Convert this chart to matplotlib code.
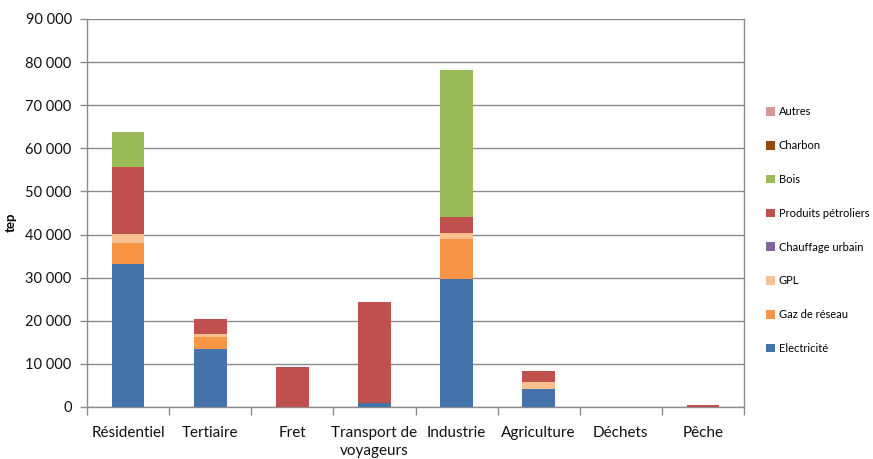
import matplotlib
matplotlib.use("Agg")
import matplotlib.pyplot as plt
from matplotlib.ticker import FuncFormatter, FixedLocator, MultipleLocator
from matplotlib.patches import Patch
import numpy as np

plt.rcParams['font.family'] = ['Lato', 'DejaVu Sans']

categories = ["Résidentiel", "Tertiaire", "Fret", "Transport de\nvoyageurs",
              "Industrie", "Agriculture", "Déchets", "Pêche"]

# consumption by energy source, in tep
electricite = [33200, 13450, 0, 950, 29700, 4100, 0, 0]
gaz_reseau = [4800, 2850, 0, 0, 9250, 0, 0, 0]
gpl = [2100, 600, 0, 0, 1500, 1600, 0, 0]
chauffage_urbain = [0, 0, 0, 0, 0, 0, 0, 0]
produits_petroliers = [15600, 3450, 9200, 23450, 3700, 2700, 0, 500]
bois = [8100, 0, 0, 0, 34000, 0, 0, 0]
charbon = [0, 150, 0, 0, 0, 0, 0, 0]
autres = [0, 0, 0, 0, 0, 0, 0, 0]

series = [
    ("Electricité", electricite, "#4472AA"),
    ("Gaz de réseau", gaz_reseau, "#F79646"),
    ("GPL", gpl, "#FAC090"),
    ("Chauffage urbain", chauffage_urbain, "#8064A2"),
    ("Produits pétroliers", produits_petroliers, "#C0504D"),
    ("Bois", bois, "#9BBB59"),
    ("Charbon", charbon, "#984807"),
    ("Autres", autres, "#D99694"),
]

fig = plt.figure(figsize=(8.73, 4.59), dpi=100)
ax = fig.add_axes([87 / 873, 1 - 407 / 459, (744 - 87) / 873, (407 - 19) / 459])

x = np.arange(len(categories))
bottom = np.zeros(len(categories))
for name, vals, col in series:
    v = np.array(vals, dtype=float)
    ax.bar(x, v, bottom=bottom, width=0.4, color=col, linewidth=0, zorder=3)
    bottom += v

grid_col = "#8C8C8C"
ax.set_xlim(-0.5, len(categories) - 0.5)
ax.set_ylim(0, 90000)
ax.yaxis.set_major_locator(MultipleLocator(10000))
ax.yaxis.set_major_formatter(FuncFormatter(lambda v, p: f"{v:,.0f}".replace(",", " ")))
ax.grid(axis="y", color=grid_col, linewidth=1, zorder=0)

ax.set_xticks(x)
ax.set_xticklabels(categories, fontsize=11, color="#111111", linespacing=1.35)
ax.xaxis.set_minor_locator(FixedLocator(np.arange(-0.5, len(categories), 1.0)))
ax.tick_params(axis="x", which="major", length=0, pad=14)
ax.tick_params(axis="x", which="minor", length=6, color=grid_col, width=1)
ax.tick_params(axis="y", length=5, color=grid_col, width=1, labelsize=10.5,
               labelcolor="#111111", pad=6)

for side in ["left", "bottom", "right"]:
    ax.spines[side].set_color(grid_col)
    ax.spines[side].set_linewidth(1)
ax.spines["top"].set_visible(False)

ax.set_ylabel("tep", fontsize=9.5, fontweight="bold")
ax.yaxis.set_label_coords((17 - 87) / 657, (407 - 222) / 388)

handles = [Patch(facecolor=col, edgecolor="none", label=name) for name, _, col in series][::-1]
leg = fig.legend(handles=handles, loc="upper left", bbox_to_anchor=(762 / 873, 1 - 102 / 459),
                 frameon=False, fontsize=8, handlelength=0.8, handleheight=0.8,
                 handletextpad=0.3, labelspacing=2.05, borderaxespad=0)

fig.savefig("out.png", dpi=100)
